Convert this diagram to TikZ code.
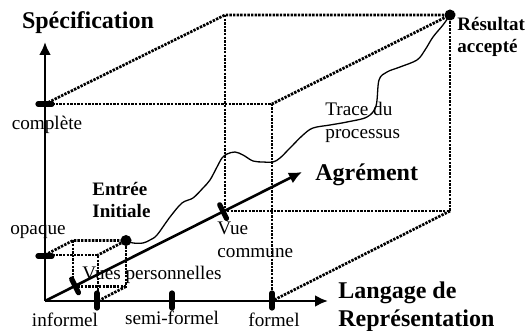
\documentclass[tikz,border=0pt]{standalone}
\usepackage{fontspec}
\setmainfont{Liberation Serif}
\usetikzlibrary{calc,arrows.meta}

\tikzset{
  axis/.style={line width=1.3pt,-{Latex[length=6.5pt,width=6pt]}},
  edge/.style={line width=1.35pt,dash pattern=on 1.2pt off 0.6pt},
  tickmark/.style={line width=2.6pt,line cap=round},
  dot/.style={circle,fill=black,inner sep=0pt,minimum size=5.5pt},
  lbl/.style={inner sep=0pt,font=\fontsize{9.6}{11.5}\selectfont},
  small title/.style={inner sep=0pt,align=left,font=\fontsize{9.5}{11}\selectfont\bfseries},
  big title/.style={inner sep=0pt,align=left,font=\fontsize{12}{14}\selectfont\bfseries}
}

\begin{document}
\begin{tikzpicture}[x=0.5pt,y=-0.5pt]
  \useasboundingbox (0,0) rectangle (525,331);

  %% Corners of the large box (front and back faces)
  \coordinate (O)   at (45,301);
  \coordinate (FTL) at (45,104);
  \coordinate (FTR) at (272,104);
  \coordinate (FBR) at (272,301);
  \coordinate (BTL) at (225,15);
  \coordinate (BTR) at (450,15);
  \coordinate (BBL) at (225,211);
  \coordinate (BBR) at (450,211);

  %% Corners of the small box
  \coordinate (fTL) at (45,255);
  \coordinate (fTR) at (98,255);
  \coordinate (fBR) at (98,301);
  \coordinate (bTL) at (73,240.5);
  \coordinate (bTR) at (126,240.5);
  \coordinate (bBL) at (73,286.5);
  \coordinate (bBR) at (126,286.5);

  %% Ends of the axes
  \coordinate (SPEC) at (45,42);
  \coordinate (LANG) at (328,301);
  \coordinate (AGR)  at (302,172);

  %% Large box
  \draw[edge] (FTL) -- (FTR) -- (FBR);
  \draw[edge] (FTL) -- (BTL) -- (BTR) -- (FTR);
  \draw[edge] (BTL) -- (BBL) -- (BBR) -- (BTR);
  \draw[edge] (BBR) -- (FBR);

  %% Small box
  \draw[edge] (fTL) -- (fTR) -- (fBR);
  \draw[edge] (fTL) -- (bTL) -- (bTR) -- (fTR);
  \draw[edge] (bTL) -- (bBL) -- (bBR) -- (bTR);
  \draw[edge] (bBR) -- (fBR);

  %% Axes
  \draw[axis] (O) -- (SPEC);
  \draw[axis] (O) -- (LANG);
  \draw[axis] (O) -- (AGR);

  %% Tick marks
  \foreach \y in {104,256}
    \draw[tickmark] (38,\y) -- (52,\y);
  \foreach \x in {97,172,272}
    \draw[tickmark] (\x,293) -- (\x,308);
  \foreach \t in {0.117,0.693}
    \draw[tickmark] ($(O)!\t!(AGR)$) ++(-3.4,-6.8) -- ++(6.8,13.6);

  %% Start and end of the process
  \node[dot] (EI) at (bTR) {};
  \node[dot] (RA) at (BTR) {};

  \draw[line width=0.65pt] plot[smooth,tension=0.55] coordinates {
    (EI.center) (133,243) (143,243) (150,240) (157,235) (170,217) (182,203)
    (193,198) (203,188) (210,180) (217,167) (222,158) (227,154) (235,152)
    (243,155) (253,161) (263,162) (273,162) (280,158) (290,148) (303,135)
    (313,128) (330,125) (347,122) (367,117) (376,106) (379,80) (387,72)
    (400,67) (417,60) (425,50) (433,37) (443,25) (RA.center)};

  %% Labels
  \node[big title] (spec) at (88,23) {Spécification};
  \node[big title,anchor=west] (agrement) at (315,175) {Agrément};
  \node[big title,anchor=west] (langage) at (338,307) {Langage de\\Représentation};
  \node[small title,anchor=west] (resultat) at (457,37) {Résultat\\accepté};
  \node[small title,anchor=west] (entree) at (92,200) {Entrée\\Initiale};

  \node[lbl] (complete) at (47,125) {complète};
  \node[lbl] (opaque) at (38,232) {opaque};
  \node[lbl] (informel) at (65,320) {informel};
  \node[lbl] (semiformel) at (172,318) {semi-formel};
  \node[lbl] (formel) at (274,320) {formel};
  \node[lbl] (vues) at (152,275) {Vues personnelles};
  \node[lbl,align=left,anchor=west] (commune) at (217,240) {Vue\\commune};
  \node[lbl,align=left,anchor=west] (trace) at (325,122) {Trace du\\processus};
\end{tikzpicture}
\end{document}
